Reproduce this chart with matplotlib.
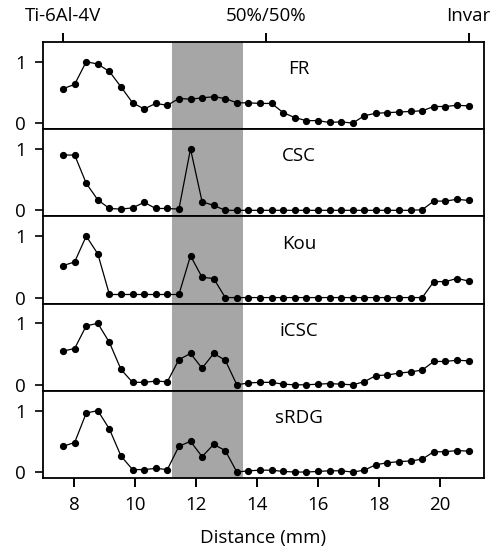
import numpy as np
import matplotlib
matplotlib.use("Agg")
import matplotlib.pyplot as plt

plt.rcParams['font.family'] = ['Open Sans', 'DejaVu Sans']
plt.rcParams['font.size'] = 13.5

# sample positions along the gradient (mm), 36 points
x_start = 7.64
x_step = 0.38
n_pts = 36
distance = x_start + x_step * np.arange(n_pts)

fr = [0.56, 0.63, 1.00, 0.96, 0.84, 0.59, 0.33, 0.23, 0.32, 0.29,
      0.40, 0.39, 0.41, 0.43, 0.40, 0.33, 0.33, 0.32, 0.32, 0.17,
      0.09, 0.04, 0.04, 0.01, 0.02, 0.00, 0.12, 0.16, 0.17, 0.18,
      0.19, 0.20, 0.27, 0.27, 0.29, 0.28]
csc = [0.90, 0.90, 0.44, 0.17, 0.03, 0.02, 0.04, 0.13, 0.03, 0.03,
       0.02, 1.00, 0.14, 0.08, 0.00, 0.00, 0.00, 0.00, 0.00, 0.00,
       0.00, 0.00, 0.00, 0.00, 0.00, 0.00, 0.00, 0.00, 0.00, 0.00,
       0.00, 0.01, 0.15, 0.15, 0.18, 0.16]
kou = [0.52, 0.58, 1.00, 0.71, 0.05, 0.05, 0.05, 0.05, 0.05, 0.05,
       0.05, 0.68, 0.33, 0.31, 0.00, 0.00, 0.00, 0.00, 0.00, 0.00,
       0.00, 0.00, 0.00, 0.00, 0.00, 0.00, 0.00, 0.00, 0.00, 0.00,
       0.00, 0.00, 0.26, 0.26, 0.31, 0.27]
icsc = [0.55, 0.59, 0.96, 1.00, 0.69, 0.25, 0.04, 0.04, 0.06, 0.05,
        0.41, 0.51, 0.27, 0.51, 0.40, 0.00, 0.03, 0.04, 0.04, 0.01,
        0.00, 0.00, 0.01, 0.02, 0.01, 0.00, 0.05, 0.15, 0.16, 0.19,
        0.21, 0.24, 0.38, 0.38, 0.40, 0.39]
srdg = [0.42, 0.48, 0.96, 1.00, 0.70, 0.26, 0.04, 0.04, 0.06, 0.04,
        0.42, 0.50, 0.25, 0.45, 0.35, 0.00, 0.02, 0.03, 0.03, 0.01,
        0.00, 0.00, 0.01, 0.02, 0.02, 0.00, 0.03, 0.12, 0.15, 0.17,
        0.18, 0.21, 0.33, 0.33, 0.35, 0.34]

series = [fr, csc, kou, icsc, srdg]
names = ['FR', 'CSC', 'Kou', 'iCSC', 'sRDG']

shade_lo, shade_hi = 11.21, 13.55
top_labels = ['Ti-6Al-4V', '50%/50%', 'Invar']

fig, axes = plt.subplots(5, 1, sharex=True, figsize=(4.9, 5.49), dpi=100)
fig.subplots_adjust(left=0.087, right=0.988, top=0.9235, bottom=0.129, hspace=0)

for ax, y, name in zip(axes, series, names):
    ax.axvspan(shade_lo, shade_hi, color='#a6a6a6', lw=0, zorder=0)
    ax.plot(distance, y, '-o', color='black', lw=0.9, ms=4.2, zorder=3)
    ax.text(15.38, 0.88, name, ha='center', va='center')
    ax.set_ylim(-0.1, 1.32)
    ax.set_yticks([0, 1])
    ax.tick_params(axis='y', direction='out', length=6, width=1.2, pad=6)
    ax.tick_params(axis='x', direction='out', length=6.5, width=1.4, pad=6)
    for sp in ax.spines.values():
        sp.set_linewidth(1.3)
        sp.set_zorder(5)

axes[-1].set_xlim(6.97, 21.45)
axes[-1].set_xticks([8, 10, 12, 14, 16, 18, 20])
axes[-1].set_xlabel('Distance (mm)', labelpad=11)
for ax in axes[:-1]:
    ax.tick_params(axis='x', length=0)

top = axes[0].secondary_xaxis('top')
top.set_xticks([distance[0], (distance[0] + distance[-1]) / 2, distance[-1]])
top.set_xticklabels(top_labels)
top.tick_params(direction='out', length=6.5, width=1.4, pad=6)
top.spines['top'].set_visible(False)

fig.savefig('out.png', dpi=100)
